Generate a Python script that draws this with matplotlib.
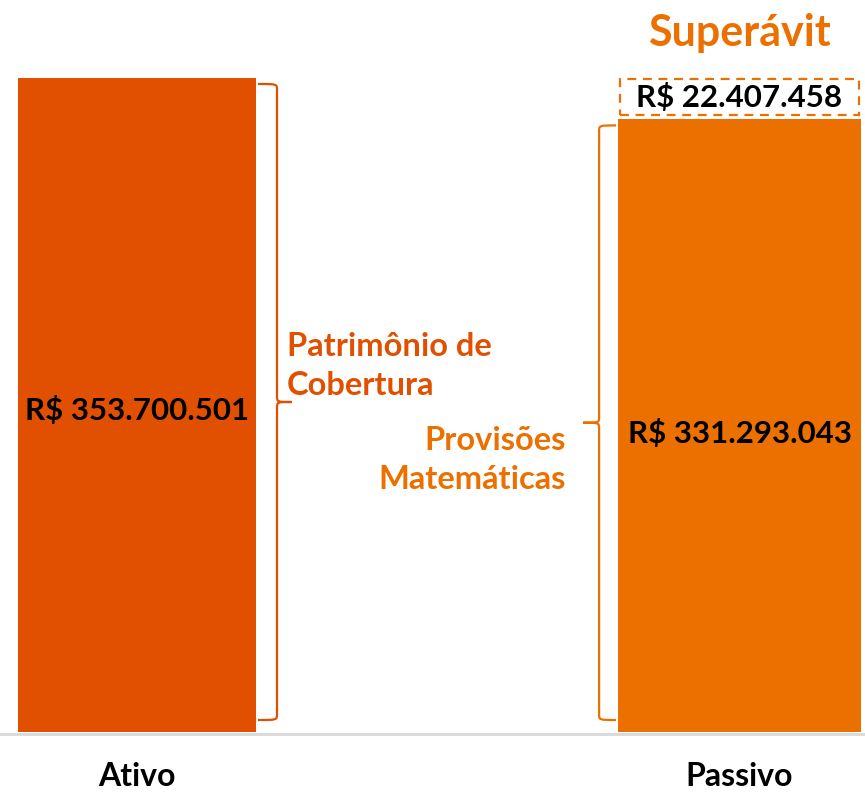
import numpy as np
import matplotlib
matplotlib.use("Agg")
import matplotlib.pyplot as plt
from matplotlib.path import Path
from matplotlib.patches import PathPatch

plt.rcParams['font.family'] = ['Lato', 'DejaVu Sans']

# data
categories = ['Ativo', 'Passivo']
ativo = 353700501
provisoes = 331293043
superavit = 22407458

c_ativo = '#E05000'
c_passivo = '#EC7000'


def brl(v):
    return 'R$ ' + f'{v:,}'.replace(',', '.')


fig = plt.figure(figsize=(8.65, 7.92), dpi=100)
ax = fig.add_axes([0, 60 / 792, 1, 732 / 792])
ax.set_xlim(-0.2274, 1.2083)
ax.set_ylim(0, ativo * 732 / 654)
ax.axis('off')

# px -> data units
px_x = 1 / 602.5
px_y = (ativo * 732 / 654) / 732

ax.bar(0, ativo, width=0.395, color=c_ativo)
ax.bar(1, provisoes, width=0.403, color=c_passivo)
ax.bar(1, superavit - 5 * px_y, bottom=provisoes + 4 * px_y, width=0.398,
       facecolor='none', edgecolor=c_passivo, linestyle=(0, (4, 3)), linewidth=1.6)

# baseline
ax.axhline(-1.5 * px_y, color='#d9d9d9', linewidth=2, clip_on=False)

# value labels
ax.text(0, ativo / 2 - 6 * px_y, brl(ativo), ha='center', va='center',
        fontsize=22.5, fontweight='bold', color='black')
ax.text(1, provisoes / 2 - 8 * px_y, brl(provisoes), ha='center', va='center',
        fontsize=22.5, fontweight='bold', color='black')
ax.text(1, provisoes + superavit / 2 + 1 * px_y, brl(superavit), ha='center', va='center',
        fontsize=22.5, fontweight='bold', color='black')
ax.text(1, ativo + 45 * px_y, 'Superávit', ha='center', va='center',
        fontsize=31, fontweight='bold', color=c_passivo)

# category labels
for i, cat in enumerate(categories):
    ax.text(i, -44 * px_y, cat, ha='center', va='center',
            fontsize=23, fontweight='bold', color='black', clip_on=False)


def brace(x0, y0, y1, depth, tip, color):
    # x0: edge where brace ends attach, depth: offset to spine, tip: offset of tip
    ym = (y0 + y1) / 2
    r = 6 * px_y
    xs = x0 + depth
    xt = x0 + tip
    verts = [
        (x0, y1), (xs, y1), (xs, y1), (xs, y1 - r),
        (xs, ym + r), (xs, ym), (xs, ym), (xt, ym),
        (xs, ym), (xs, ym), (xs, ym - r),
        (xs, y0 + r), (xs, y0), (xs, y0), (x0, y0),
    ]
    codes = [Path.MOVETO, Path.CURVE4, Path.CURVE4, Path.CURVE4,
             Path.LINETO, Path.CURVE4, Path.CURVE4, Path.CURVE4,
             Path.CURVE4, Path.CURVE4, Path.CURVE4,
             Path.LINETO, Path.CURVE4, Path.CURVE4, Path.CURVE4]
    ax.add_patch(PathPatch(Path(verts, codes), facecolor='none',
                           edgecolor=color, linewidth=1.6, clip_on=False))


brace(0.1975 + 2 * px_x, 12 * px_y, ativo - 6 * px_y, 19 * px_x, 34 * px_x, c_ativo)
brace(1 - 0.2015 - 2 * px_x, 12 * px_y, provisoes - 6 * px_y, -17 * px_x, -33 * px_x, c_passivo)

# brace captions
ax.text(0.1975 + 31 * px_x, ativo / 2 + 39 * px_y, 'Patrimônio de\nCobertura',
        ha='left', va='center', fontsize=23.5, fontweight='bold', color=c_ativo,
        linespacing=1.42)
ax.text(1 - 0.2015 - 52 * px_x, provisoes / 2 - 34 * px_y, 'Provisões\nMatemáticas',
        ha='right', va='center', fontsize=23.5, fontweight='bold', color=c_passivo,
        linespacing=1.42)

fig.savefig('out.png', dpi=100)
